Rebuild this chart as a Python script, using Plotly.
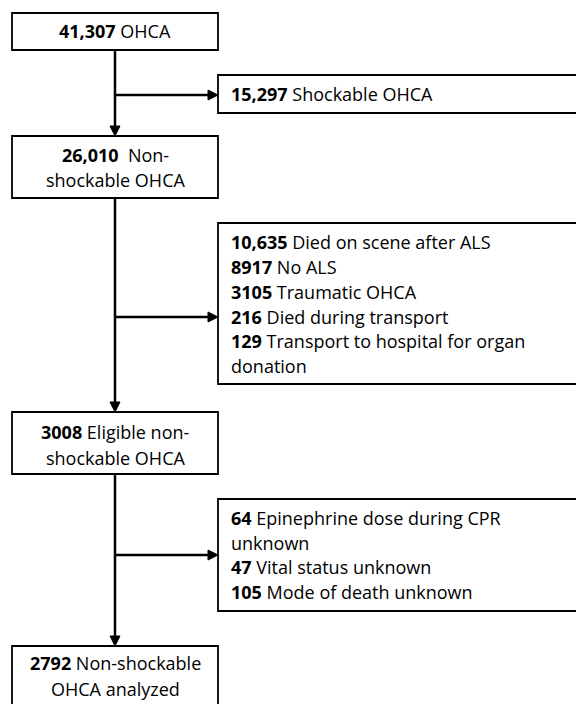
import plotly.graph_objects as go

# ---- data (counts and labels) ----
total_counts = [41307]
shockable_counts = [15297]
nonshock_counts = [26010]
excl1_counts = [10635, 8917, 3105, 216, 129]
excl1_labels = ["Died on scene after ALS", "No ALS", "Traumatic OHCA",
                "Died during transport", "Transport to hospital for organ<br>donation"]
eligible_counts = [3008]
excl2_counts = [64, 47, 105]
excl2_labels = ["Epinephrine dose during CPR<br>unknown", "Vital status unknown",
                "Mode of death unknown"]
analyzed_counts = [2792]

FONT = "'Open Sans', 'Noto Sans', sans-serif"
FS = 18
PAGE_W, PAGE_H = 584, 704
OFF = 8  # default page body margin
W, H = PAGE_W - OFF, PAGE_H - OFF

def fmt(n):
    return f"{n:,}" if n >= 10000 else str(n)

fig = go.Figure()
shapes = []
ann = []

def box(x0, y0, x1, y1):
    shapes.append(dict(type="rect", x0=x0, y0=y0, x1=x1, y1=y1,
                       line=dict(color="black", width=1.8), fillcolor="white", layer="above"))

def line(x0, y0, x1, y1):
    shapes.append(dict(type="line", x0=x0, y0=y0, x1=x1, y1=y1,
                       line=dict(color="black", width=2.5), layer="above"))

def head_right(x, y):
    shapes.append(dict(type="path", path=f"M {x-10},{y-5} L {x},{y} L {x-10},{y+5} Z",
                       fillcolor="black", line=dict(color="black", width=1), layer="above"))

def head_down(x, y):
    shapes.append(dict(type="path", path=f"M {x-5},{y-10} L {x},{y} L {x+5},{y-10} Z",
                       fillcolor="black", line=dict(color="black", width=1), layer="above"))

def text(x, y, s, anchor="center"):
    ann.append(dict(x=x, y=y, text=s, showarrow=False, xanchor=anchor, yanchor="middle",
                    align=anchor if anchor != "center" else "center",
                    font=dict(family=FONT, size=FS, color="black")))

# connectors
line(115, 50, 115, 128); head_down(115, 136)
line(115, 95, 208, 95); head_right(218, 95)
line(115, 198, 115, 404); head_down(115, 412)
line(115, 317, 208, 317); head_right(218, 317)
line(115, 474, 115, 638); head_down(115, 646)
line(115, 555, 208, 555); head_right(218, 555)

# boxes
box(12, 13, 218, 50)
box(218, 75, 600, 113)
box(12, 136, 218, 198)
box(218, 223, 582, 384)
box(12, 412, 218, 474)
box(218, 499, 582, 611)
box(12, 646, 218, 720)

# texts
text(115, 31, f"<b>{fmt(total_counts[0])}</b> OHCA")
text(229, 94, f"<b>{fmt(shockable_counts[0])}</b> Shockable OHCA", "left")
text(115, 155, f"<b>{fmt(nonshock_counts[0])}</b>  Non-")
text(115, 180, "shockable OHCA")

ys1 = [242, 267, 292, 317, 341]
for yy, c, lab in zip(ys1, excl1_counts, excl1_labels):
    parts = lab.split("<br>")
    text(229, yy, f"<b>{fmt(c)}</b> {parts[0]}", "left")
    if len(parts) > 1:
        text(229, yy + 25, parts[1], "left")

text(115, 432, f"<b>{fmt(eligible_counts[0])}</b> Eligible non-")
text(115, 458, "shockable OHCA")

ys2 = [518, 567, 592]
for yy, c, lab in zip(ys2, excl2_counts, excl2_labels):
    parts = lab.split("<br>")
    text(229, yy, f"<b>{fmt(c)}</b> {parts[0]}", "left")
    if len(parts) > 1:
        text(229, yy + 24.5, parts[1], "left")

text(115, 663, f"<b>{fmt(analyzed_counts[0])}</b> Non-shockable")
text(115, 689, "OHCA analyzed")

fig.update_layout(
    width=W, height=H, margin=dict(l=0, r=0, t=0, b=0),
    paper_bgcolor="white", plot_bgcolor="white",
    xaxis=dict(range=[OFF, PAGE_W], visible=False, fixedrange=True),
    yaxis=dict(range=[PAGE_H, OFF], visible=False, fixedrange=True),
    shapes=shapes, annotations=ann, showlegend=False,
)
fig.write_html("out.html", config={"displayModeBar": False})
